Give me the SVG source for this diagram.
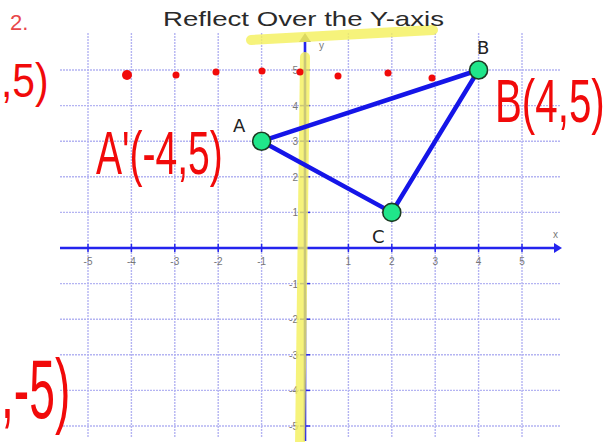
<svg xmlns="http://www.w3.org/2000/svg" width="615" height="442" viewBox="0 0 615 442">
<style>
.grid line{stroke:#b4b4f2;stroke-width:1.4;stroke-dasharray:2 1}
.tick{font-family:"Liberation Sans",Arial,sans-serif;font-size:10px;fill:#777}
.axis{stroke:#2424ee;stroke-width:2.6;fill:none}
.edge{stroke:#1515e8;stroke-width:4.5;stroke-linecap:round}
.vtx{fill:#20e68a;stroke:#1c3a22;stroke-width:1.6}
.vlab{font-family:"DejaVu Sans","Liberation Sans",sans-serif;font-size:18px;fill:#222}
.red{font-family:"Liberation Sans",Arial,sans-serif;fill:#f10a0a}
.hl{stroke:#f4f05a;stroke-linecap:round;fill:none;opacity:0.8}
</style>
<rect width="615" height="442" fill="#fff"/>
<text x="10" y="30" font-family="Liberation Sans,Arial,sans-serif" font-size="22" fill="#e8474a">2.</text>
<g class="grid">
<line x1="88" y1="33" x2="88" y2="437"/><line x1="131.4" y1="33" x2="131.4" y2="437"/><line x1="174.8" y1="33" x2="174.8" y2="437"/><line x1="218.2" y1="33" x2="218.2" y2="437"/><line x1="261.6" y1="33" x2="261.6" y2="437"/><line x1="348.4" y1="33" x2="348.4" y2="437"/><line x1="391.8" y1="33" x2="391.8" y2="437"/><line x1="435.2" y1="33" x2="435.2" y2="437"/><line x1="478.6" y1="33" x2="478.6" y2="437"/><line x1="522" y1="33" x2="522" y2="437"/>
<line x1="60" y1="70" x2="560" y2="70"/><line x1="60" y1="105.6" x2="560" y2="105.6"/><line x1="60" y1="141.2" x2="560" y2="141.2"/><line x1="60" y1="176.8" x2="560" y2="176.8"/><line x1="60" y1="212.4" x2="560" y2="212.4"/><line x1="60" y1="283.6" x2="560" y2="283.6"/><line x1="60" y1="319.2" x2="560" y2="319.2"/><line x1="60" y1="354.8" x2="560" y2="354.8"/><line x1="60" y1="390.4" x2="560" y2="390.4"/><line x1="60" y1="426" x2="560" y2="426"/>
</g>
<g id="axes">
<line class="axis" x1="60" y1="248" x2="558" y2="248"/>
<path d="M562 248 L554 243 L554 253 Z" fill="#2424ee"/>
<line class="axis" x1="305" y1="42" x2="305" y2="441"/>
<path d="M305 33 L299 42 L311 42 Z" fill="#7a7a7a"/>
<g stroke="#2424ee" stroke-width="1.5">
<line x1="88" y1="244" x2="88" y2="252"/><line x1="131.4" y1="244" x2="131.4" y2="252"/><line x1="174.8" y1="244" x2="174.8" y2="252"/><line x1="218.2" y1="244" x2="218.2" y2="252"/><line x1="261.6" y1="244" x2="261.6" y2="252"/><line x1="348.4" y1="244" x2="348.4" y2="252"/><line x1="391.8" y1="244" x2="391.8" y2="252"/><line x1="435.2" y1="244" x2="435.2" y2="252"/><line x1="478.6" y1="244" x2="478.6" y2="252"/><line x1="522" y1="244" x2="522" y2="252"/>
<line x1="300" y1="70" x2="310" y2="70"/><line x1="300" y1="105.6" x2="310" y2="105.6"/><line x1="300" y1="141.2" x2="310" y2="141.2"/><line x1="300" y1="176.8" x2="310" y2="176.8"/><line x1="300" y1="212.4" x2="310" y2="212.4"/><line x1="300" y1="283.6" x2="310" y2="283.6"/><line x1="300" y1="319.2" x2="310" y2="319.2"/><line x1="300" y1="354.8" x2="310" y2="354.8"/><line x1="300" y1="390.4" x2="310" y2="390.4"/><line x1="300" y1="426" x2="310" y2="426"/>
</g>
<g class="tick" text-anchor="middle">
<text x="88" y="265">-5</text><text x="131.4" y="265">-4</text><text x="174.8" y="265">-3</text><text x="218.2" y="265">-2</text><text x="261.6" y="265">-1</text><text x="348.4" y="265">1</text><text x="391.8" y="265">2</text><text x="435.2" y="265">3</text><text x="478.6" y="265">4</text><text x="522" y="265">5</text>
</g>
<g class="tick" text-anchor="end">
<text x="298" y="74">5</text><text x="298" y="109.6">4</text><text x="298" y="145.2">3</text><text x="298" y="180.8">2</text><text x="298" y="216.4">1</text><text x="298" y="287.6">-1</text><text x="298" y="323.2">-2</text><text x="298" y="358.8">-3</text><text x="298" y="394.4">-4</text><text x="298" y="430">-5</text>
</g>
<text class="tick" x="319" y="49" font-size="12">y</text>
<text class="tick" x="553" y="238" font-size="12">x</text>
</g>
<line class="hl" x1="251" y1="40" x2="433" y2="30" stroke-width="10"/>
<line class="hl" x1="305" y1="57" x2="300" y2="446" stroke-width="10"/>
<text x="163" y="26" font-family="Liberation Sans,Arial,sans-serif" font-size="21" fill="#2a2a2a" textLength="281" lengthAdjust="spacingAndGlyphs">Reflect Over the Y-axis</text>
<g id="connectors">
<line class="edge" x1="261.6" y1="141.2" x2="478.6" y2="70"/>
<line class="edge" x1="261.6" y1="141.2" x2="391.8" y2="212.4"/>
<line class="edge" x1="478.6" y1="70" x2="391.8" y2="212.4"/>
</g>
<g id="A"><circle class="vtx" cx="261.6" cy="141.2" r="9"/><text class="vlab" x="233" y="132">A</text></g>
<g id="B"><circle class="vtx" cx="478.6" cy="70" r="9"/><text class="vlab" x="477" y="54">B</text></g>
<g id="C"><circle class="vtx" cx="391.8" cy="212.4" r="9"/><text class="vlab" x="372" y="243">C</text></g>
<g id="dots" fill="#f10a0a">
<circle cx="127" cy="75" r="5"/><circle cx="176" cy="75" r="3.5"/><circle cx="216" cy="72" r="3.5"/><circle cx="262" cy="71" r="3.5"/><circle cx="300" cy="72" r="3.5"/><circle cx="338" cy="76" r="3.5"/><circle cx="388" cy="73" r="3.5"/><circle cx="432" cy="78" r="3.5"/>
</g>
<g id="notes">
<text class="red" transform="translate(1,97) scale(0.85,1)" font-size="48">,5)</text>
<text class="red" transform="translate(96,174) scale(0.63,1)" font-size="62">A'(-4,5)</text>
<text class="red" transform="translate(495,122) scale(0.65,1)" font-size="62">B(4,5)</text>
<text class="red" transform="translate(1,418) scale(0.55,1)" font-size="84">,-5)</text>
</g>
</svg>
